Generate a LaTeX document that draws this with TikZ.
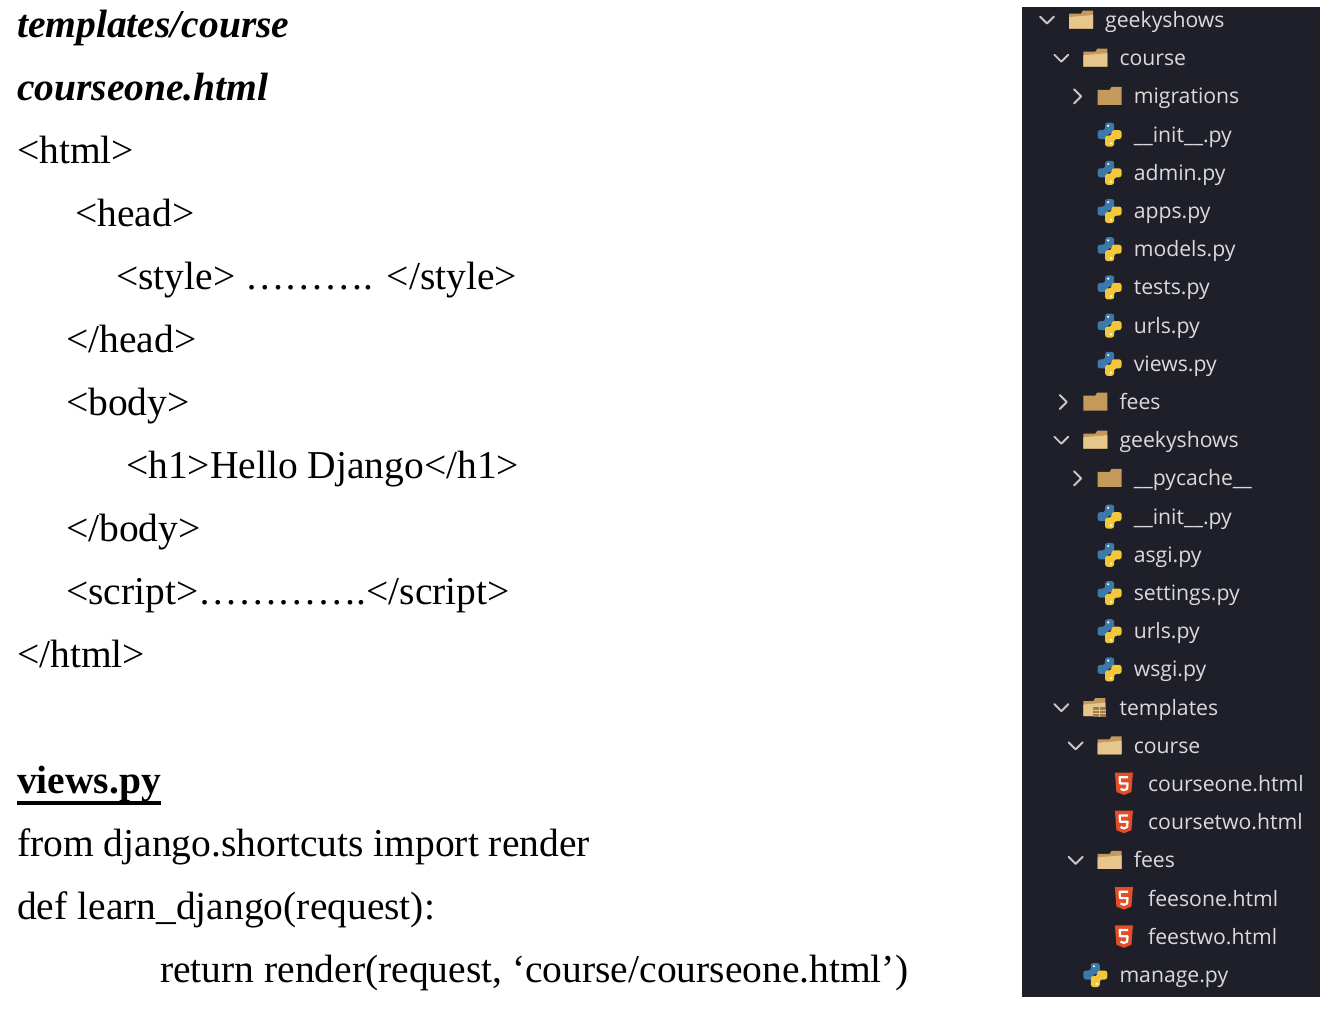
\documentclass[tikz,border=0pt]{standalone}
\usepackage{fontspec}
\setmainfont{Liberation Serif}
\newfontfamily\explorerfont{Open Sans}
\usetikzlibrary{calc}
\definecolor{panelbg}{HTML}{1E1F29}
\definecolor{treetext}{HTML}{DADADA}
\definecolor{chevcol}{HTML}{C8C8C8}
\definecolor{folderback}{HTML}{C49A5C}
\definecolor{folderfront}{HTML}{E6C68A}
\definecolor{pyblue}{HTML}{3C78AA}
\definecolor{pyyellow}{HTML}{F2C83A}
\definecolor{htmlorange}{HTML}{E44D26}

\tikzset{
  chevron/.style={draw=chevcol, line width=1.9pt, line cap=round, line join=round},
  pics/chevdown/.style={code={\draw[chevron] (-7,-3.5) -- (0,3.5) -- (7,-3.5);}},
  pics/chevright/.style={code={\draw[chevron] (-3.5,-7) -- (3.5,0) -- (-3.5,7);}},
  pics/folder/.style={code={
    \fill[folderback] (-12,-6.5) -- (0,-6.5) -- (2,-9.5) -- (12,-9.5) -- (12,8.5) -- (-12,8.5) -- cycle;}},
  pics/openfolder/.style={code={
    \fill[folderback] (-12,-6.5) -- (0,-6.5) -- (2,-9.5) -- (12,-9.5) -- (12,8.5) -- (-12,8.5) -- cycle;
    \fill[folderfront] (-12,-3) -- (12,-5) -- (12,8.5) -- (-12,8.5) -- cycle;}},
  pics/tplfolder/.style={code={
    \fill[folderback] (-12,-6.5) -- (-2,-6.5) -- (0,-9.5) -- (10,-9.5) -- (10,8.5) -- (-12,8.5) -- cycle;
    \fill[folderfront] (-12,-3) -- (10,-5) -- (10,8.5) -- (-12,8.5) -- cycle;
    \fill[folderback!80!black] (-2,-1) rectangle (11,9.5);
    \draw[folderfront, line width=0.8pt] (-2,3) -- (11,3) (-2,6) -- (11,6) (4.5,-1) -- (4.5,9.5);}},
  pics/pyfile/.style={code={
    \fill[pyblue, rounded corners=2.5pt] (-4.5,-12) -- (4.5,-12) -- (4.5,-1) -- (-2,-1) -- (-2,4.5) -- (-12,4.5) -- (-12,-4.5) -- (-4.5,-4.5) -- cycle;
    \fill[pyyellow, rounded corners=2.5pt] (4.5,12) -- (-4.5,12) -- (-4.5,1) -- (2,1) -- (2,-4.5) -- (12,-4.5) -- (12,4.5) -- (4.5,4.5) -- cycle;
    \fill[white] (-1.4,-8.8) circle (1.2pt) (1.4,8.8) circle (1.2pt);}},
  pics/htmlfile/.style={code={
    \fill[htmlorange] (-9,-11.5) -- (9,-11.5) -- (7.5,8) -- (0,11) -- (-7.5,8) -- cycle;
    \draw[white, line width=2.2pt, line join=round] (4.3,-6.8) -- (-4.3,-6.8) -- (-3.9,-0.5) -- (3.6,-0.5) -- (3.2,4.8) -- (0,6.2) -- (-3.4,4.8);}}
}

\begin{document}
\begin{tikzpicture}[x=1pt, y=-1pt,
    codeline/.style={anchor=base west, inner sep=0pt, font=\fontsize{39.5}{47}\selectfont},
    codehead/.style={codeline, font=\fontsize{39.5}{47}\selectfont\bfseries\itshape},
    treeitem/.style={anchor=west, inner sep=0pt, text height=17.5pt, text depth=2.5pt, text=treetext,
      font=\explorerfont\fontsize{21.2}{26}\selectfont}]
    \useasboundingbox[fill=white] (0,0) rectangle (1327,1017);

    % template file
    \node(tplpath)[codehead] at (17,37) {templates/course};
    \node(tplfile)[codehead] at (17,100) {courseone.html};
    \node(htmlopen)[codeline] at (17,163) {<html>};
    \node(headopen)[codeline] at (75,226) {<head>};
    \node(styleline)[codeline] at (116,289) {<style> ………. </style>};
    \node(headclose)[codeline] at (66,352) {</head>};
    \node(bodyopen)[codeline] at (66,415) {<body>};
    \node(h1line)[codeline] at (126,478) {<h1>Hello Django</h1>};
    \node(bodyclose)[codeline] at (66,541) {</body>};
    \node(scriptline)[codeline] at (66,604) {<script>………….</script>};
    \node(htmlclose)[codeline] at (17,667) {</html>};

    % views.py
    \node(viewsfile)[codeline, font=\fontsize{39.5}{47}\selectfont\bfseries] at (17,793) {views.py};
    \draw[line width=3.2pt] ($(viewsfile.base west)+(0,10)$) -- ($(viewsfile.base east)+(0,10)$);
    \node(importline)[codeline] at (17,856) {from django.shortcuts import render};
    \node(defline)[codeline] at (17,919) {def learn\_django(request):};
    \node(returnline)[codeline] at (160,982) {return render(request, ‘course/courseone.html’)};

    % explorer panel
    \fill[panelbg] (1022,7) rectangle (1320,997);
    \pic at (1047,20) {chevdown};      \pic at (1081,20) {openfolder};
    \node(rootdir)[treeitem] at (1105,20) {geekyshows};
    \pic at (1061.3,58.2) {chevdown};  \pic at (1095.3,58.2) {openfolder};
    \node(coursedir)[treeitem] at (1119.3,58.2) {course};
    \pic at (1077.6,96.4) {chevright}; \pic at (1109.6,96.4) {folder};
    \node(migdir)[treeitem] at (1133.6,96.4) {migrations};
    \pic at (1109.6,134.6) {pyfile};
    \node(cinit)[treeitem] at (1133.6,134.6) {\_\_init\_\_.py};
    \pic at (1109.6,172.8) {pyfile};
    \node(cadmin)[treeitem] at (1133.6,172.8) {admin.py};
    \pic at (1109.6,211) {pyfile};
    \node(capps)[treeitem] at (1133.6,211) {apps.py};
    \pic at (1109.6,249.2) {pyfile};
    \node(cmodels)[treeitem] at (1133.6,249.2) {models.py};
    \pic at (1109.6,287.4) {pyfile};
    \node(ctests)[treeitem] at (1133.6,287.4) {tests.py};
    \pic at (1109.6,325.6) {pyfile};
    \node(curls)[treeitem] at (1133.6,325.6) {urls.py};
    \pic at (1109.6,363.8) {pyfile};
    \node(cviews)[treeitem] at (1133.6,363.8) {views.py};
    \pic at (1063.3,402) {chevright};  \pic at (1095.3,402) {folder};
    \node(feesdir)[treeitem] at (1119.3,402) {fees};
    \pic at (1061.3,440.2) {chevdown}; \pic at (1095.3,440.2) {openfolder};
    \node(gsdir)[treeitem] at (1119.3,440.2) {geekyshows};
    \pic at (1077.6,478.4) {chevright}; \pic at (1109.6,478.4) {folder};
    \node(pycdir)[treeitem] at (1133.6,478.4) {\_\_pycache\_\_};
    \pic at (1109.6,516.6) {pyfile};
    \node(ginit)[treeitem] at (1133.6,516.6) {\_\_init\_\_.py};
    \pic at (1109.6,554.8) {pyfile};
    \node(gasgi)[treeitem] at (1133.6,554.8) {asgi.py};
    \pic at (1109.6,593) {pyfile};
    \node(gsettings)[treeitem] at (1133.6,593) {settings.py};
    \pic at (1109.6,631.2) {pyfile};
    \node(gurls)[treeitem] at (1133.6,631.2) {urls.py};
    \pic at (1109.6,669.4) {pyfile};
    \node(gwsgi)[treeitem] at (1133.6,669.4) {wsgi.py};
    \pic at (1061.3,707.6) {chevdown}; \pic at (1095.3,707.6) {tplfolder};
    \node(tpldir)[treeitem] at (1119.3,707.6) {templates};
    \pic at (1075.6,745.8) {chevdown}; \pic at (1109.6,745.8) {openfolder};
    \node(tplcourse)[treeitem] at (1133.6,745.8) {course};
    \pic at (1123.9,784) {htmlfile};
    \node(courseone)[treeitem] at (1147.9,784) {courseone.html};
    \pic at (1123.9,822.2) {htmlfile};
    \node(coursetwo)[treeitem] at (1147.9,822.2) {coursetwo.html};
    \pic at (1075.6,860.4) {chevdown}; \pic at (1109.6,860.4) {openfolder};
    \node(tplfees)[treeitem] at (1133.6,860.4) {fees};
    \pic at (1123.9,898.6) {htmlfile};
    \node(feesone)[treeitem] at (1147.9,898.6) {feesone.html};
    \pic at (1123.9,936.8) {htmlfile};
    \node(feestwo)[treeitem] at (1147.9,936.8) {feestwo.html};
    \pic at (1095.3,975) {pyfile};
    \node(manage)[treeitem] at (1119.3,975) {manage.py};
\end{tikzpicture}
\end{document}
